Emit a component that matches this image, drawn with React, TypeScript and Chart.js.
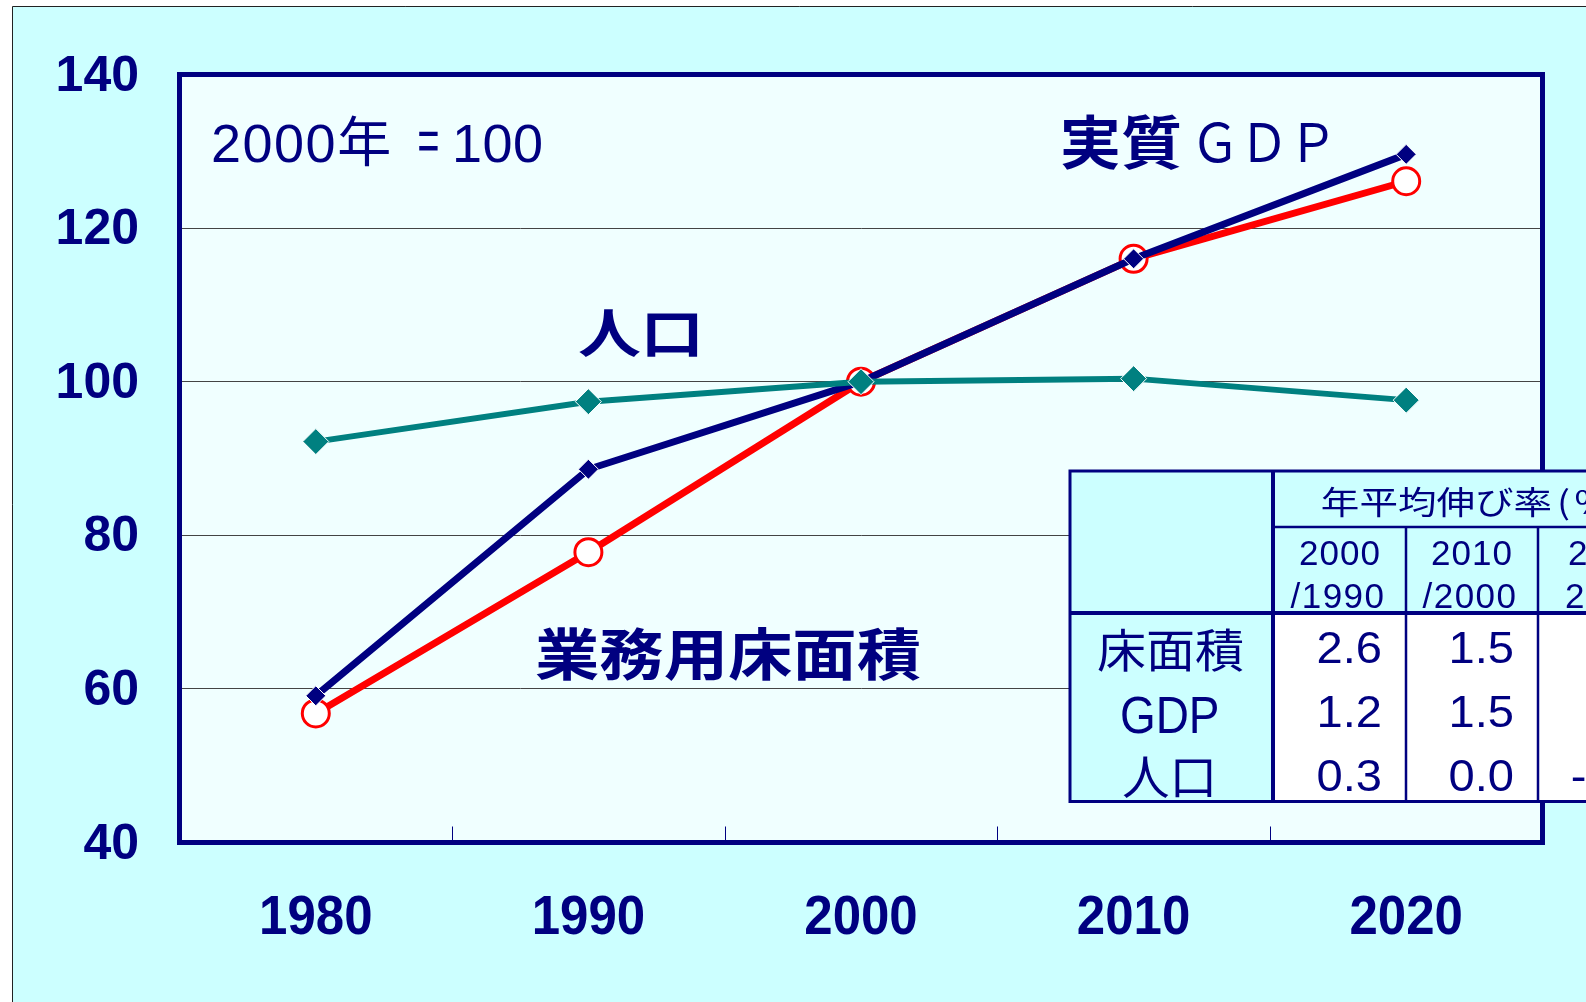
import React, { useEffect, useRef } from "react";
import { Chart, registerables } from "chart.js";

Chart.register(...registerables);

// ---- data ----
const years = ["1980", "1990", "2000", "2010", "2020"];
const floorArea = [56.8, 77.8, 100, 116.0, 126.1];
const realGdp = [59.1, 88.6, 100, 116.0, 129.6];
const population = [92.2, 97.4, 100, 100.4, 97.6];
const yTickValues = [40, 60, 80, 100, 120, 140];

const tableTitle = "年平均伸び率";
const tableTitleTail = "(%)";
const periodTop = ["2000", "2010", "2020"];
const periodBottom = ["/1990", "/2000", "2010"];
const rowLabels = ["床面積", "GDP", "人口"];
const rateFloor = ["2.6", "1.5", "0.8"];
const rateGdp = ["1.2", "1.5", "1.1"];
const ratePop = ["0.3", "0.0", "-0.3"];
const rateRows = [rateFloor, rateGdp, ratePop];

const NAVY = "#000080";
const RED = "#FF0000";
const TEAL = "#008080";
const CJK = "'Noto Sans CJK JP'";
const LAT = "'Liberation Sans', Arial";

function fitText(
  ctx: CanvasRenderingContext2D,
  text: string,
  font: string,
  x0: number,
  x1: number,
  top: number,
  bottom: number,
  color: string
) {
  ctx.save();
  ctx.font = font;
  ctx.textAlign = "left";
  ctx.textBaseline = "alphabetic";
  const m = ctx.measureText(text);
  const w = m.actualBoundingBoxLeft + m.actualBoundingBoxRight;
  const h = m.actualBoundingBoxAscent + m.actualBoundingBoxDescent;
  const sx = (x1 - x0) / w;
  const sy = (bottom - top) / h;
  ctx.translate(x0, top);
  ctx.scale(sx, sy);
  ctx.fillStyle = color;
  ctx.fillText(text, m.actualBoundingBoxLeft, m.actualBoundingBoxAscent);
  ctx.restore();
  return { sx, sy };
}

function drawText(
  ctx: CanvasRenderingContext2D,
  text: string,
  font: string,
  x: number,
  baseline: number,
  align: CanvasTextAlign,
  sx: number,
  sy: number,
  color: string,
  spacing = 0
) {
  ctx.save();
  ctx.font = font;
  ctx.textAlign = align;
  ctx.textBaseline = "alphabetic";
  (ctx as any).letterSpacing = spacing + "px";
  ctx.translate(x, baseline);
  ctx.scale(sx, sy);
  ctx.fillStyle = color;
  ctx.fillText(text, 0, 0);
  ctx.restore();
}

const decorPlugin = {
  id: "decor",
  beforeDraw(chart: any) {
    const ctx: CanvasRenderingContext2D = chart.ctx;
    const W = chart.width;
    const H = chart.height;
    const a = chart.chartArea;
    ctx.save();
    ctx.fillStyle = "#FFFFFF";
    ctx.fillRect(0, 0, W, H);
    ctx.fillStyle = "#CCFFFF";
    ctx.fillRect(12, 6, W - 12, H - 6);
    ctx.strokeStyle = "#222222";
    ctx.lineWidth = 1;
    ctx.beginPath();
    ctx.moveTo(12.5, H);
    ctx.lineTo(12.5, 6.5);
    ctx.lineTo(W, 6.5);
    ctx.stroke();
    ctx.fillStyle = "#F0FFFF";
    ctx.fillRect(a.left, a.top, a.right - a.left, a.bottom - a.top);
    ctx.restore();
  },
  beforeDatasetsDraw(chart: any) {
    const ctx: CanvasRenderingContext2D = chart.ctx;
    const a = chart.chartArea;
    const xs = chart.scales.x;
    const ys = chart.scales.y;
    ctx.save();
    ctx.strokeStyle = NAVY;
    ctx.lineWidth = 1;
    for (let i = 0; i < years.length - 1; i++) {
      const bx = Math.round((xs.getPixelForValue(i) + xs.getPixelForValue(i + 1)) / 2) + 0.5;
      ctx.beginPath();
      ctx.moveTo(bx, a.bottom - 2);
      ctx.lineTo(bx, a.bottom - 16);
      ctx.stroke();
    }
    ctx.strokeStyle = NAVY;
    ctx.lineWidth = 5;
    ctx.strokeRect(a.left, a.top, a.right - a.left, a.bottom - a.top);
    ctx.restore();

    yTickValues.forEach((v) => {
      const y = ys.getPixelForValue(v);
      drawText(ctx, String(v), `bold 50px ${LAT}`, 139, y + 16, "right", 1, 0.98, NAVY);
    });
    years.forEach((lab, i) => {
      const x = xs.getPixelForValue(i);
      drawText(ctx, lab, `bold 51px ${LAT}`, x, 934, "center", 1, 1.1, NAVY);
    });
  },
  afterDraw(chart: any) {
    const ctx: CanvasRenderingContext2D = chart.ctx;
    // annotations
    drawText(ctx, "2000年", `54px ${LAT}, ${CJK}`, 211, 162, "left", 1, 1, NAVY, 1.5);
    fitText(ctx, "＝", `40px ${CJK}`, 419, 438, 132, 151, NAVY);
    drawText(ctx, "100", `54px ${LAT}`, 452, 162, "left", 1, 1, NAVY, 0.5);

    fitText(ctx, "実質", `bold 56px ${CJK}`, 1062, 1180, 114, 170, NAVY);
    fitText(ctx, "ＧＤＰ", `42px ${CJK}`, 1199, 1328, 121, 163, NAVY);
    fitText(ctx, "人口", `bold 56px ${CJK}`, 579, 698, 310, 358, NAVY);
    fitText(ctx, "業務用床面積", `bold 60px ${CJK}`, 536, 920, 627, 681, NAVY);

    // table
    const L = 1070, T = 471, c1 = 1273, c2 = 1406, c3 = 1538, c4 = 1676;
    const h1 = 527, h2 = 613, B = 801.5;
    const colX = [c1, c2, c3, c4];
    ctx.save();
    ctx.fillStyle = "#CCFFFF";
    ctx.fillRect(L, T, c4 - L, h2 - T);
    ctx.fillRect(L, h2, c1 - L, B - h2);
    ctx.fillStyle = "#FFFFFF";
    ctx.fillRect(c1, h2, c4 - c1, B - h2);
    ctx.strokeStyle = NAVY;
    ctx.lineWidth = 3;
    ctx.strokeRect(L, T, c4 - L, B - T);
    ctx.lineWidth = 4;
    ctx.beginPath();
    ctx.moveTo(c1, T);
    ctx.lineTo(c1, B);
    ctx.moveTo(L, h2);
    ctx.lineTo(c4, h2);
    ctx.stroke();
    ctx.lineWidth = 2.5;
    ctx.beginPath();
    ctx.moveTo(c1, h1);
    ctx.lineTo(c4, h1);
    ctx.moveTo(c2, h1);
    ctx.lineTo(c2, B);
    ctx.moveTo(c3, h1);
    ctx.lineTo(c3, B);
    ctx.stroke();
    ctx.restore();

    const s = fitText(ctx, tableTitle, `34px ${CJK}`, 1322, 1551, 486, 518, NAVY);
    drawText(ctx, tableTitleTail, `34px ${CJK}`, 1557, 514, "left", s.sx, s.sy, NAVY, 4);

    const topX = [1340, 1472, 1609];
    for (let c = 0; c < 3; c++) {
      drawText(ctx, periodTop[c], `35px ${LAT}`, topX[c], 565, "center", 1, 1, NAVY, 1);
      drawText(ctx, periodBottom[c], `35px ${LAT}`, topX[c] - 2, 608, "center", 1, 1, NAVY, 1.5);
    }

    const labelBoxes = [
      [1098, 1243, 628, 672],
      [1122, 1218, 696, 733],
      [1123, 1212, 756, 798],
    ];
    rowLabels.forEach((lab, r) => {
      const b = labelBoxes[r];
      const f = r === 1 ? `44px ${LAT}` : `46px ${CJK}`;
      fitText(ctx, lab, f, b[0], b[1], b[2], b[3], NAVY);
    });
    const baselines = [663, 727, 791];
    rateRows.forEach((row, r) => {
      row.forEach((val, c) => {
        drawText(ctx, val, `44px ${LAT}`, colX[c + 1] - 24, baselines[r], "right", 1.07, 1.0, NAVY);
      });
    });
  },
};

export default function App() {
  const ref = useRef<HTMLCanvasElement | null>(null);
  useEffect(() => {
    if (!ref.current) return;
    const chart = new Chart(ref.current, {
      type: "line",
      data: {
        labels: years,
        datasets: [
          {
            label: "業務用床面積",
            data: floorArea,
            borderColor: RED,
            borderWidth: 7,
            pointStyle: "circle",
            pointRadius: 13.5,
            pointBackgroundColor: "#FFFFFF",
            pointBorderColor: RED,
            pointBorderWidth: 3,
            tension: 0,
            order: 3,
          },
          {
            label: "実質GDP",
            data: realGdp,
            borderColor: NAVY,
            borderWidth: 7,
            pointStyle: "rectRot",
            pointRadius: 10,
            pointBackgroundColor: NAVY,
            pointBorderColor: "#FFFFFF",
            pointBorderWidth: 1,
            tension: 0,
            order: 2,
          },
          {
            label: "人口",
            data: population,
            borderColor: TEAL,
            borderWidth: 6,
            pointStyle: "rectRot",
            pointRadius: 13,
            pointBackgroundColor: TEAL,
            pointBorderColor: "#FFFFFF",
            pointBorderWidth: 1,
            tension: 0,
            order: 1,
          },
        ],
      },
      options: {
        responsive: false,
        animation: false,
        devicePixelRatio: 1,
        layout: { padding: { left: 179.5, top: 74.5, right: 43.5, bottom: 159.5 } },
        plugins: { legend: { display: false }, tooltip: { enabled: false } },
        scales: {
          x: {
            type: "category",
            offset: true,
            grid: { display: false, drawTicks: false },
            ticks: { display: false },
            border: { display: false },
          },
          y: {
            min: 40,
            max: 140,
            ticks: { display: false, stepSize: 20 },
            grid: {
              drawTicks: false,
              lineWidth: 1,
              color: (c: any) =>
                c.tick && (c.tick.value === 40 || c.tick.value === 140) ? "rgba(0,0,0,0)" : "#444444",
            },
            border: { display: false },
          },
        },
      },
      plugins: [decorPlugin],
    });
    return () => chart.destroy();
  }, []);
  return (
    <div style={{ position: "fixed", left: 0, top: 0, width: 1586, height: 1002, overflow: "hidden" }}>
      <canvas ref={ref} width={1586} height={1002} style={{ display: "block", width: 1586, height: 1002 }} />
    </div>
  );
}
